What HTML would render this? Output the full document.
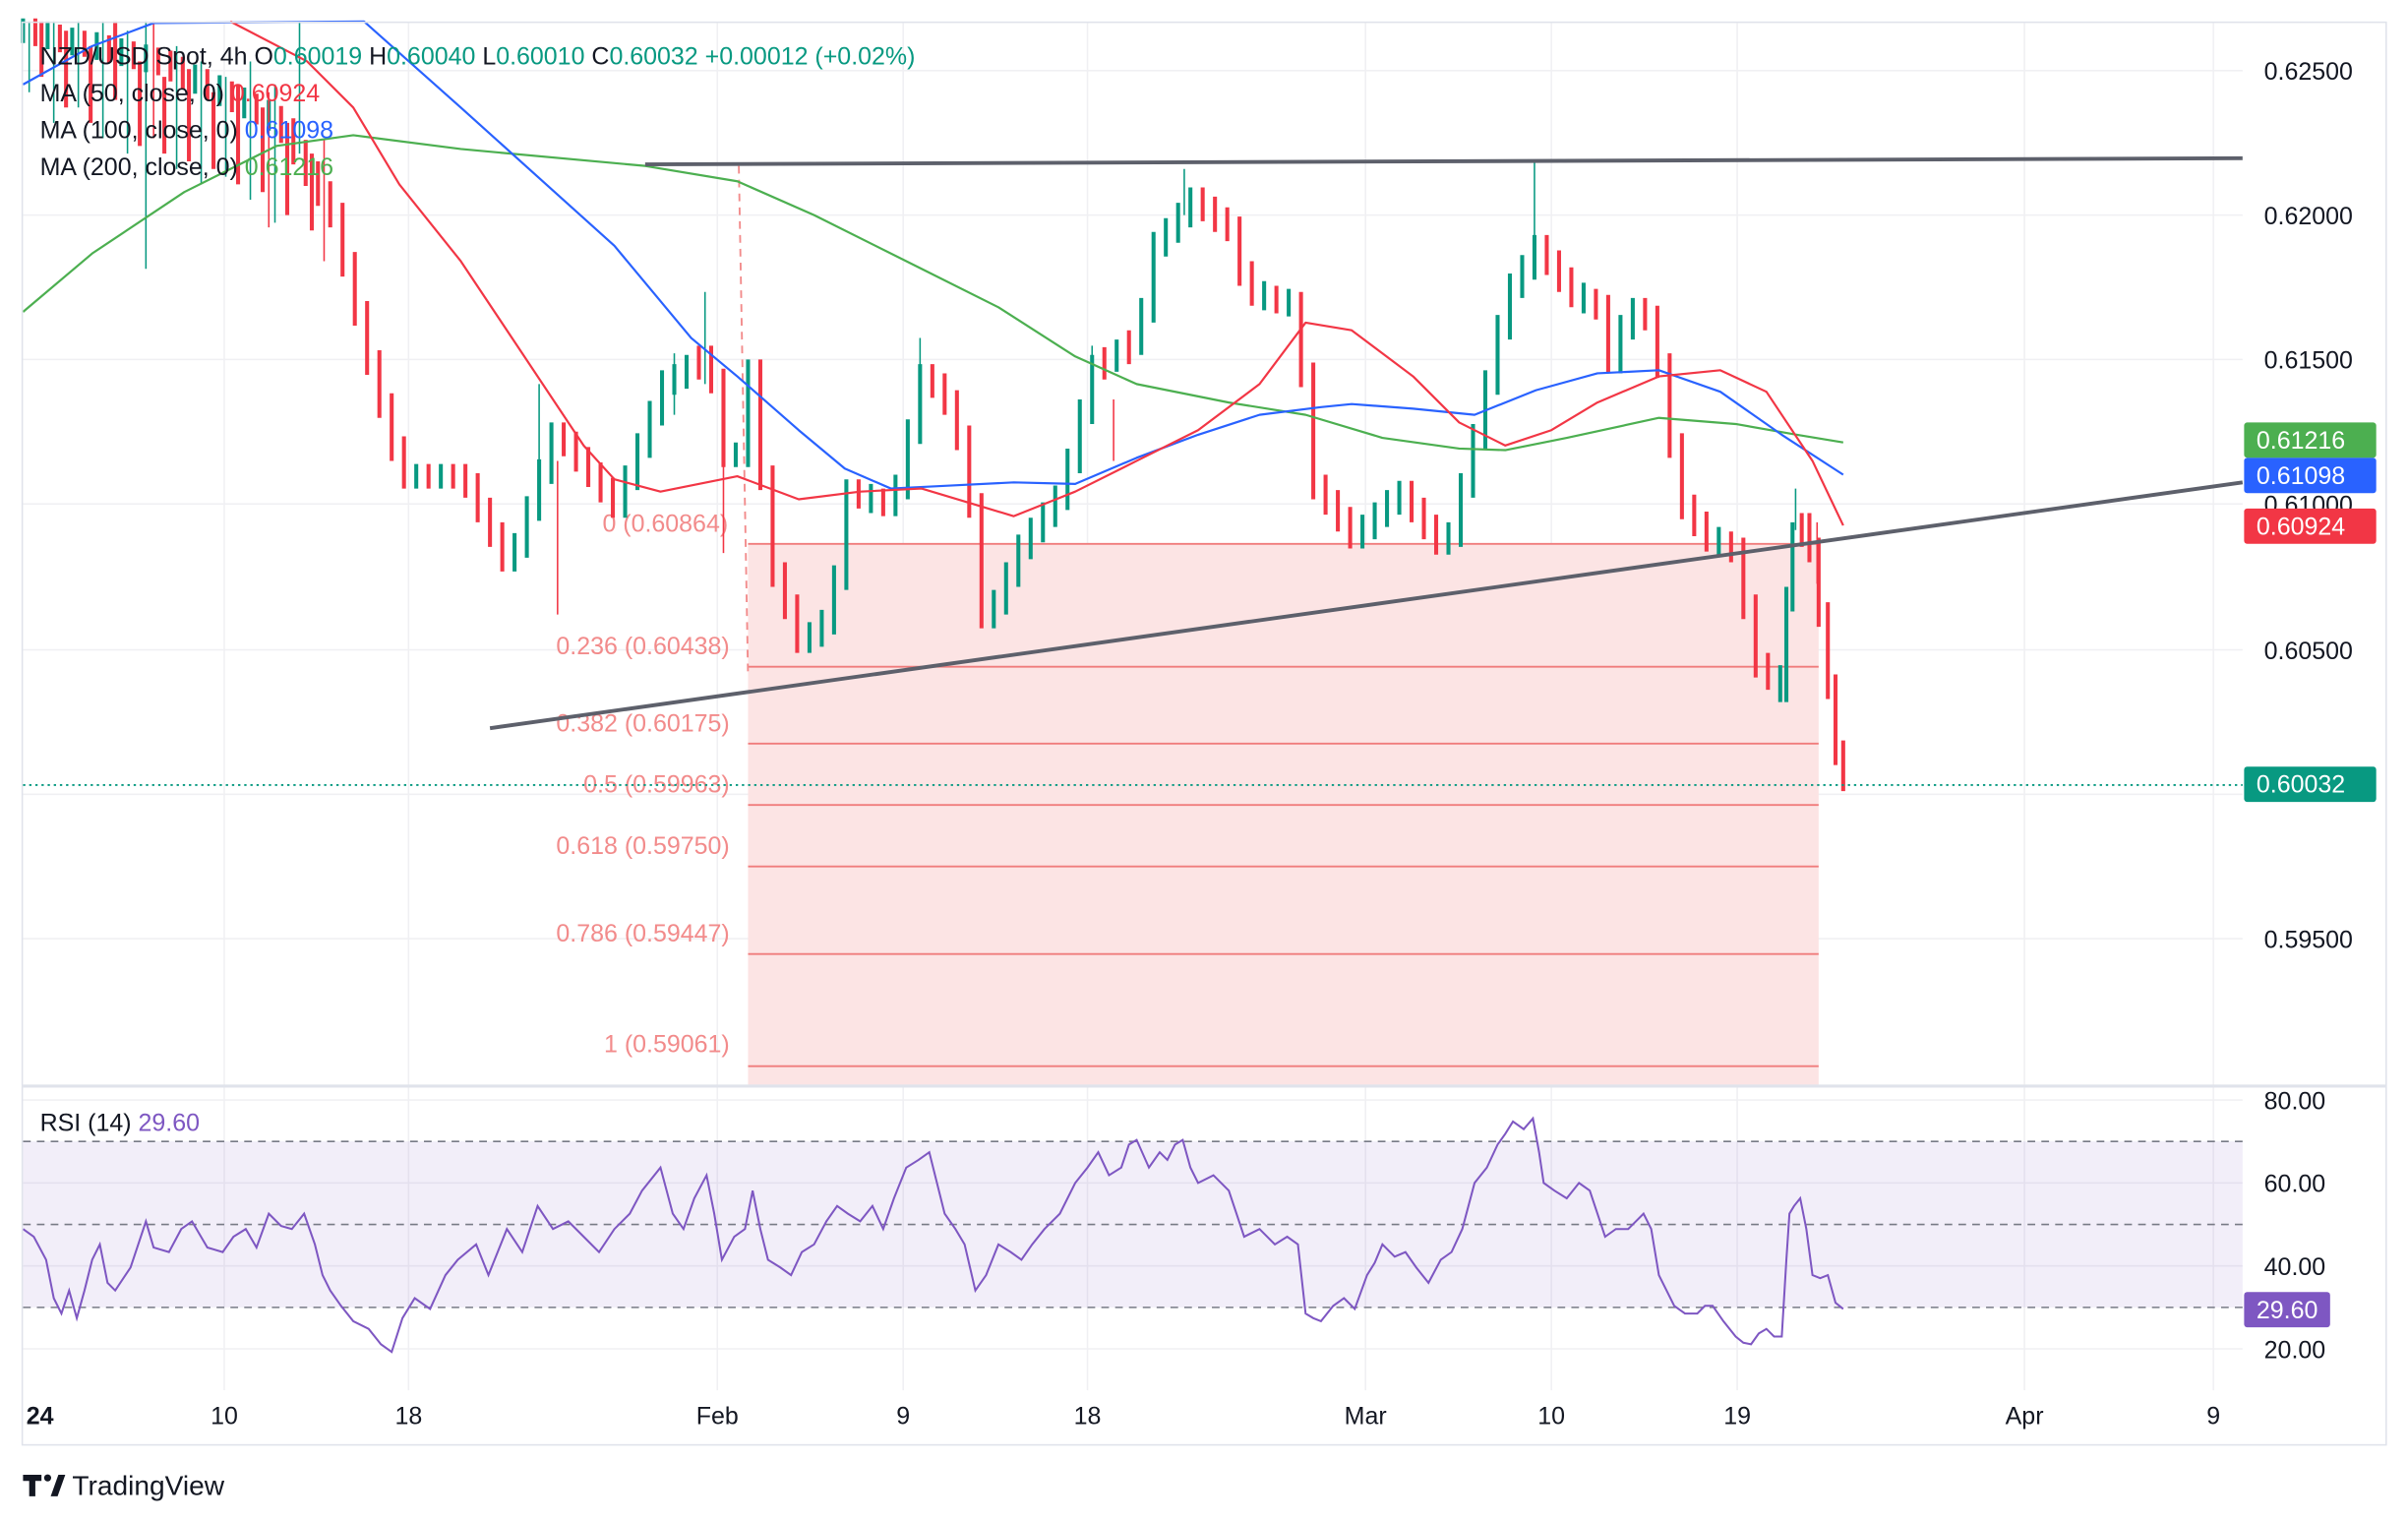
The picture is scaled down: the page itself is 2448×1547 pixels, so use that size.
<!DOCTYPE html>
<html><head><meta charset="utf-8"><style>
html,body{margin:0;padding:0;background:#fff;}
svg{display:block;font-family:"Liberation Sans",sans-serif;}
</style></head><body>
<svg width="2448" height="1547" viewBox="0 0 1567.7 990.7" xmlns="http://www.w3.org/2000/svg">
<rect width="1568" height="991" fill="#fff"/>
<g stroke="#f0f0f3" stroke-width="1">
<path d="M15 46H1460M15 140H1460M15 234H1460M15 328H1460M15 423H1460M15 517H1460M15 611H1460M15 716H1460M15 770H1460M15 824H1460M15 878H1460"/>
<path d="M146 15V905M266 15V905M467 15V905M588 15V905M708 15V905M889 15V905M1010 15V905M1131 15V905M1318 15V905M1441 15V905"/>
</g>
<rect x="487" y="354" width="697" height="352" fill="#fce4e4"/>
<g stroke="#f07c7c" stroke-width="1.2">
<path d="M487 354H1184M487 434H1184M487 484H1184M487 524H1184M487 564H1184M487 621H1184M487 694H1184"/>
</g>
<line x1="481" y1="108" x2="487" y2="440" stroke="#f28b8b" stroke-dasharray="5,4" stroke-width="1.2"/>
<g fill="#f28b8b" font-size="16" text-anchor="end">
<text x="474" y="346">0 (0.60864)</text><text x="475" y="426">0.236 (0.60438)</text>
<text x="475" y="476">0.382 (0.60175)</text><text x="475" y="516">0.5 (0.59963)</text>
<text x="475" y="556">0.618 (0.59750)</text><text x="475" y="613">0.786 (0.59447)</text>
<text x="475" y="685">1 (0.59061)</text>
</g>
<!-- candles -->
<path stroke="#089981" stroke-width="2.6" fill="none" d="M15 12V28M31 14V32M47 18V36M63 21V39M79 25V43M95 29V47M127 42V61M143 49V69M159 57V77M175 65V85M271 302V318M287 302V318M335 347V372M343 323V363M351 299V339M359 275V315M407 303V337M415 282V319M423 261V298M431 241V277M439 237V257M447 231V253M479 288V304M487 234V304M527 405V425M535 397V421M543 368V413M551 312V384M567 315V334M583 309V336M591 273V325M599 237V289M647 384V409M655 366V400M663 348V382M671 337V364M679 327V353M687 316V343M695 292V332M703 260V308M711 231V276M727 221V242M743 194V231M751 151V210M759 142V167M767 132V158M775 122V148M823 183V202M839 188V206M887 335V357M895 327V351M903 319V343M911 313V335M943 340V361M951 308V356M959 276V324M967 241V292M975 205V257M983 178V221M991 166V194M999 153V182M1031 184V204M1055 205V243M1063 194V221M1119 343V362M1159 433V457M1163 382V457M1167 340V398"/>
<path stroke="#089981" stroke-width="1" fill="none" d="M19 14V60M35 14V80M51 14V70M67 14V90M83 20V100M95 14V175M115 30V110M131 40V120M147 50V115M163 40V130M179 55V145M195 14V100M351 250V300M459 190V250M439 230V270M599 220V250M711 225V260M771 110V140M999 105V160M1169 318V345"/>
<path stroke="#f23645" stroke-width="2.6" fill="none" d="M27 14V50M43 20V70M59 30V80M75 14V65M91 40V95M107 50V100M123 45V105M139 60V110M155 55V120M171 70V125M187 80V140M203 100V150"/>
<path stroke="#f23645" stroke-width="1" fill="none" d="M100 14V90M175 60V148M211 90V170M363 300V400M471 270V360M725 260V300M1183 340V380"/>
<path stroke="#f23645" stroke-width="2.6" fill="none" d="M23 12V30M39 16V34M55 20V37M71 23V41M87 27V45M103 31V49M111 33V53M119 37V58M135 45V65M151 53V73M167 61V81M183 69V93M191 77V107M199 91V121M207 105V134M215 118V148M223 132V180M231 164V212M239 196V244M247 228V272M255 256V300M263 284V318M279 302V318M295 302V318M303 302V324M311 308V340M319 324V356M327 340V372M367 275V297M375 281V307M383 291V317M391 301V327M399 311V337M455 225V247M463 225V256M471 240V304M495 234V319M503 303V382M511 366V403M519 387V425M559 312V331M575 318V336M607 237V259M615 243V270M623 254V293M631 277V337M639 321V409M719 226V247M735 215V237M783 122V144M791 128V151M799 135V157M807 141V186M815 170V199M831 186V204M847 190V252M855 236V325M863 309V335M871 319V346M879 330V357M919 313V340M927 324V351M935 335V361M1007 153V179M1015 163V190M1023 174V200M1039 188V208M1047 192V243M1071 194V215M1079 199V246M1087 230V298M1095 282V338M1103 322V349M1111 333V359M1127 346V366M1135 350V403M1143 387V441M1151 425V449M1173 334V356M1178 334V366M1184 350V408M1190 392V455M1195 439V498M1200 482V515"/>
<!-- MAs -->
<g fill="none" stroke-width="1.4" stroke-linejoin="round">
<polyline stroke="#4caf50" points="15,203 60,165 120,125 180,95 230,88 300,97 420,108 480,118 530,140 600,175 650,200 700,232 740,250 800,262 850,270 900,285 950,292 980,293 1020,285 1080,272 1130,276 1170,283 1200,288"/>
<polyline stroke="#2962ff" points="15,55 60,30 100,15 237,14 300,70 350,115 400,160 450,220 480,245 520,280 550,305 580,318 620,316 660,314 700,315 740,298 780,283 820,270 860,265 880,263 920,266 960,270 1000,254 1040,243 1080,241 1120,255 1160,283 1200,309"/>
<polyline stroke="#f23645" points="150,14 200,40 230,70 260,120 300,170 340,230 380,290 400,312 430,320 480,310 520,325 560,320 600,318 640,330 660,336 700,320 740,300 780,280 820,250 850,210 880,215 920,245 950,275 980,290 1010,280 1040,262 1080,245 1120,241 1150,255 1180,300 1200,342"/>
</g>
<line x1="420" y1="107" x2="1460" y2="103" stroke="#5d606b" stroke-width="2.5"/>
<line x1="319" y1="474" x2="1460" y2="314" stroke="#5d606b" stroke-width="2.5"/>
<line x1="15" y1="511" x2="1460" y2="511" stroke="#089981" stroke-dasharray="1.5,2.5" stroke-width="1.2"/>
<!-- rsi -->
<rect x="15" y="743" width="1445" height="108" fill="#7e57c2" opacity="0.1"/>
<g stroke="#787b86" stroke-dasharray="5,4" stroke-width="1">
<path d="M15 743H1460M15 797H1460M15 851H1460"/>
</g>
<polyline fill="none" stroke="#7e57c2" stroke-width="1.3" points="15,800 22,805 30,820 35,845 40,855 45,840 50,858 55,840 60,820 65,810 70,835 75,840 85,825 95,795 100,812 110,815 118,800 125,795 135,812 145,815 152,805 160,800 167,812 175,790 183,798 190,800 198,790 205,810 210,830 215,840 222,850 230,860 240,865 248,875 255,880 262,858 270,845 280,852 290,830 298,820 310,810 318,830 330,800 340,815 350,785 360,800 370,795 380,805 390,815 400,800 410,790 418,775 430,760 438,790 445,800 452,780 460,765 465,790 470,820 478,805 485,800 490,775 495,800 500,820 508,825 515,830 522,815 530,810 538,795 545,785 552,790 560,795 568,785 575,800 582,780 590,760 598,755 605,750 610,770 615,790 622,800 628,810 635,840 642,830 650,810 658,815 665,820 672,810 680,800 690,790 700,770 708,760 715,750 722,765 730,760 735,745 740,742 748,760 755,750 760,755 765,745 770,742 775,760 780,770 790,765 800,775 805,790 810,805 820,800 830,810 838,805 845,810 850,855 855,858 860,860 868,850 875,845 882,852 890,830 895,822 900,810 908,818 915,815 922,825 930,835 938,820 945,815 952,800 960,770 968,760 975,745 980,738 985,730 992,735 998,728 1002,750 1005,770 1012,775 1020,780 1028,770 1035,775 1040,790 1045,805 1052,800 1060,800 1065,795 1070,790 1075,800 1080,830 1085,840 1090,850 1097,855 1105,855 1110,850 1115,850 1122,860 1130,870 1135,874 1140,875 1145,868 1150,865 1155,870 1160,870 1163,820 1165,790 1168,785 1172,780 1176,800 1180,830 1185,832 1190,830 1195,848 1200,852"/>
<g stroke="#e0e3eb" stroke-width="1" fill="none">
<rect x="14.5" y="14.5" width="1539" height="926"/>
<line x1="15" y1="707" x2="1553" y2="707" stroke-width="2"/>
</g>
<g font-size="16">
<text x="26" y="42" fill="#131722">NZD/USD Spot, 4h  O<tspan fill="#089981">0.60019</tspan>  H<tspan fill="#089981">0.60040</tspan>  L<tspan fill="#089981">0.60010</tspan>  C<tspan fill="#089981">0.60032</tspan> <tspan fill="#089981"> +0.00012 (+0.02%)</tspan></text>
<text x="26" y="66" fill="#131722">MA (50, close, 0) <tspan fill="#f23645">0.60924</tspan></text>
<text x="26" y="90" fill="#131722">MA (100, close, 0) <tspan fill="#2962ff">0.61098</tspan></text>
<text x="26" y="114" fill="#131722">MA (200, close, 0) <tspan fill="#4caf50">0.61216</tspan></text>
<text x="26" y="736" fill="#131722">RSI (14) <tspan fill="#7e57c2">29.60</tspan></text>
</g>
<g font-size="16" fill="#131722">
<text x="1474" y="52">0.62500</text><text x="1474" y="146">0.62000</text><text x="1474" y="240">0.61500</text>
<text x="1474" y="334">0.61000</text><text x="1474" y="429">0.60500</text><text x="1474" y="617">0.59500</text>
<text x="1474" y="722">80.00</text><text x="1474" y="776">60.00</text><text x="1474" y="830">40.00</text><text x="1474" y="884">20.00</text>
</g>
<g font-size="16" fill="#fff">
<rect x="1461" y="275" width="86" height="23" rx="2" fill="#4caf50"/><text x="1469" y="292">0.61216</text>
<rect x="1461" y="298" width="86" height="23" rx="2" fill="#2962ff"/><text x="1469" y="315">0.61098</text>
<rect x="1461" y="331" width="86" height="23" rx="2" fill="#f23645"/><text x="1469" y="348">0.60924</text>
<rect x="1461" y="499" width="86" height="23" rx="2" fill="#089981"/><text x="1469" y="516">0.60032</text>
<rect x="1461" y="841" width="56" height="23" rx="2" fill="#7e57c2"/><text x="1469" y="858">29.60</text>
</g>
<g font-size="16" fill="#131722" text-anchor="middle">
<text x="26" y="927" font-weight="bold">24</text><text x="146" y="927">10</text><text x="266" y="927">18</text>
<text x="467" y="927">Feb</text><text x="588" y="927">9</text><text x="708" y="927">18</text>
<text x="889" y="927">Mar</text><text x="1010" y="927">10</text><text x="1131" y="927">19</text>
<text x="1318" y="927">Apr</text><text x="1441" y="927">9</text>
</g>
<g fill="#131722"><path d="M15 960h12v4h-4v10h-4v-10h-4z"/><circle cx="31" cy="962" r="2.3"/><path d="M33 974l5-14h4.5l-5 14z"/></g>
<text x="47" y="973" font-size="18" fill="#131722">TradingView</text>
</svg>
</body></html>
